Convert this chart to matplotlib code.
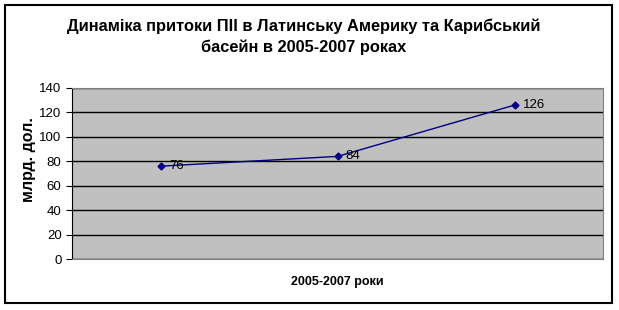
import matplotlib
matplotlib.use("Agg")
import matplotlib.pyplot as plt
from matplotlib.patches import Rectangle

# Дані
years = ["2005", "2006", "2007"]
fdi = [76, 84, 126]
y_ticks = [0, 20, 40, 60, 80, 100, 120, 140]

plt.rcParams['font.family'] = ['Liberation Sans', 'DejaVu Sans']

fig = plt.figure(figsize=(6.19, 3.10), dpi=100)
W, H = 619, 310

# рамка навколо діаграми
fig.patches.append(Rectangle((5 / W, 7 / H), 607 / W, 298 / H, transform=fig.transFigure,
                             fill=False, edgecolor='black', linewidth=1.5))

ax = fig.add_axes([72 / W, 1 - 259 / H, 531 / W, 171 / H])
ax.set_facecolor('#c0c0c0')

x = range(len(years))
ax.plot(x, fdi, color='#000080', marker='D', markersize=3.5, linewidth=1)
for xi, v in zip(x, fdi):
    ax.annotate(str(v), (xi, v), xytext=(6, 0), textcoords='offset points',
                va='center', ha='left', fontsize=9.5)

ax.set_xlim(-0.5, len(years) - 0.5)
ax.set_ylim(0, 140)
ax.set_yticks(y_ticks)
ax.set_xticks([])
ax.yaxis.grid(True, color='black', linewidth=1)
ax.set_axisbelow(True)
ax.tick_params(axis='y', labelsize=9.5, length=4, direction='out')

for side in ['top', 'right', 'bottom']:
    ax.spines[side].set_color('#808080')
ax.spines['left'].set_color('black')

fig.text(29 / W, 1 - 160 / H, 'млрд. дол.', rotation=90, ha='center', va='center',
         fontsize=11.5, fontweight='bold')
ax.set_xlabel('2005-2007 роки', fontsize=9, fontweight='bold', labelpad=12)

fig.text(0.49, 1 - 37 / H, 'Динаміка притоки ПІІ в Латинську Америку та Карибський\nбасейн в 2005-2007 роках',
         ha='center', va='center', fontsize=11.8, fontweight='bold', linespacing=1.4)

fig.savefig('out.png', dpi=100)
